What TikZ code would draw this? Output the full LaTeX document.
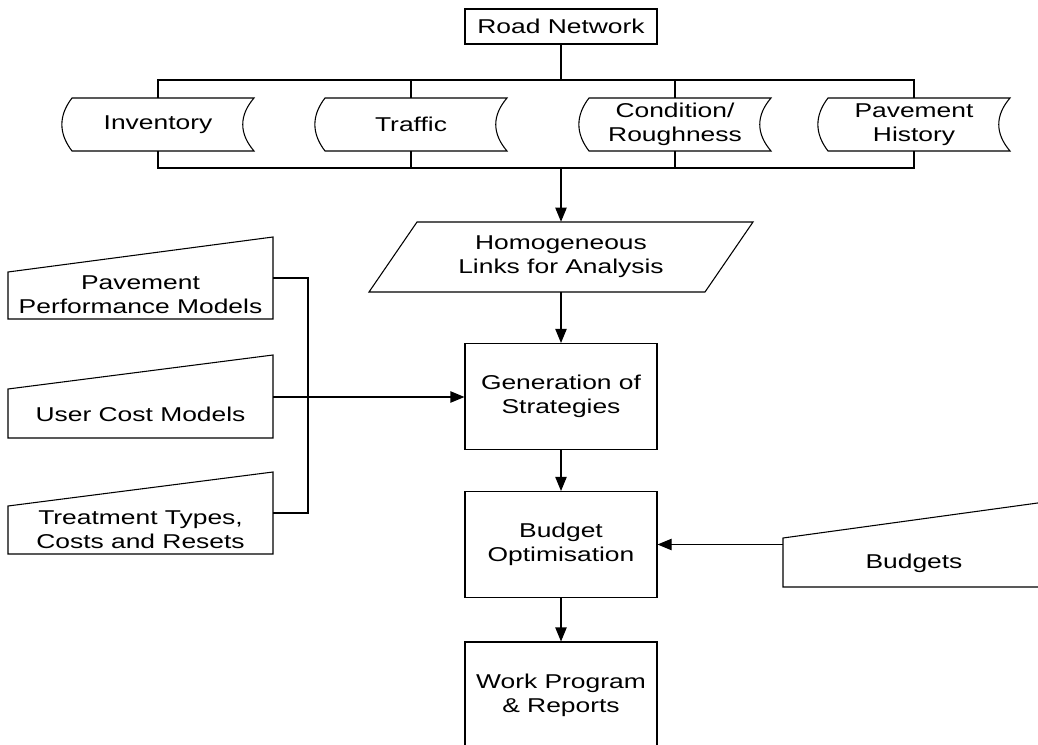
\documentclass[tikz,border=0pt]{standalone}
\usepackage{fontspec}
\setmainfont{Liberation Sans}[FakeStretch=1.32]
\usetikzlibrary{arrows.meta}

% Coordinates are given in pixels: 1px = 0.75pt, y grows downwards.
\tikzset{
  line/.style={draw=black, line width=0.8pt},
  flow/.style={line, -{Triangle[length=10.5pt,width=8.5pt]}},
  txt/.style={align=center, font=\fontsize{15pt}{18pt}\selectfont, inner sep=0pt},
  procbox/.style={txt, line, minimum width=144pt, minimum height=79.5pt},
  storenode/.style={txt, minimum width=144pt, minimum height=39.75pt},
}

% Stored-data outline centred on (#1,#2), 192 x 53 px
\newcommand\storedpath[2]{%
  \draw[line] (#1-86,#2-26.5) -- (#1+96,#2-26.5)
    .. controls (#1+81,#2-9) and (#1+81,#2+9) .. (#1+96,#2+26.5)
    -- (#1-86,#2+26.5)
    .. controls (#1-99.5,#2+9) and (#1-99.5,#2-9) .. (#1-86,#2-26.5) -- cycle;}

% Manual-input outline: left x, bottom y, width, left height, right height
\newcommand\manualpath[5]{%
  \draw[line] (#1,#2) -- (#1,#2-#4) -- (#1+#3,#2-#5) -- (#1+#3,#2) -- cycle;}

\begin{document}
\begin{tikzpicture}[x=0.75pt,y=-0.75pt]
\clip (0,0) rectangle (1038,745);

% ---- network and data sources
\node[procbox, minimum height=26.25pt] (road) at (561,26.5) {Road Network};

\storedpath{158}{124.5}
\node[storenode] (inv) at (158,124.5) {Inventory};
\storedpath{411}{124.5}
\node[storenode] (traf) at (411,124.5) {Traffic};
\storedpath{675}{124.5}
\node[storenode] (cond) at (675,124.5) {Condition/\\Roughness};
\storedpath{914}{124.5}
\node[storenode] (hist) at (914,124.5) {Pavement\\History};

\coordinate (tb) at (561,80);
\coordinate (bb) at (561,168);
\draw[line] (road.south) -- (tb);
\draw[line] (inv.north) |- (tb) -| (hist.north);
\draw[line] (traf.north) -- (traf.north |- tb);
\draw[line] (cond.north) -- (cond.north |- tb);
\draw[line] (inv.south) |- (bb) -| (hist.south);
\draw[line] (traf.south) -- (traf.south |- bb);
\draw[line] (cond.south) -- (cond.south |- bb);

% ---- analysis chain
\draw[line] (417,222) -- (753,222) -- (705,292) -- (369,292) -- cycle;
\node[txt, minimum height=52.5pt] (homog) at (561,257) {Homogeneous\\Links for Analysis};

\node[procbox] (gen) at (561,396.5) {Generation of\\Strategies};
\node[procbox] (opt) at (561,544.5) {Budget\\Optimisation};
\node[procbox] (work) at (561,695) {Work Program\\\& Reports};

\draw[flow] (bb) -- (bb |- homog.north);
\draw[flow] (homog.south) -- (gen.north);
\draw[flow] (gen.south) -- (opt.north);
\draw[flow] (opt.south) -- (work.north);

% ---- model inputs
\manualpath{8}{319}{265}{47}{82}
\node[txt] (ppm) at (140.5,295) {Pavement\\Performance Models};
\coordinate (ppm-r) at (273,278);

\manualpath{8}{438}{265}{49}{83}
\node[txt] (ucm) at (140.5,414) {User Cost Models};
\coordinate (ucm-r) at (273,397);

\manualpath{8}{554}{265}{48}{82}
\node[txt] (tts) at (140.5,530) {Treatment Types,\\Costs and Resets};
\coordinate (tts-r) at (273,513);

\coordinate (jn) at (308,397);
\draw[line] (ppm-r) -| (jn) |- (tts-r);
\draw[flow] (ucm-r) -- (ucm-r -| gen.west);

% ---- budgets
\manualpath{783}{587}{262}{49}{85}
\node[txt] (bgt) at (914,563) {Budgets};
\coordinate (bgt-l) at (783,560);
\draw[flow] (bgt-l |- opt.east) -- (opt.east);

\end{tikzpicture}
\end{document}
